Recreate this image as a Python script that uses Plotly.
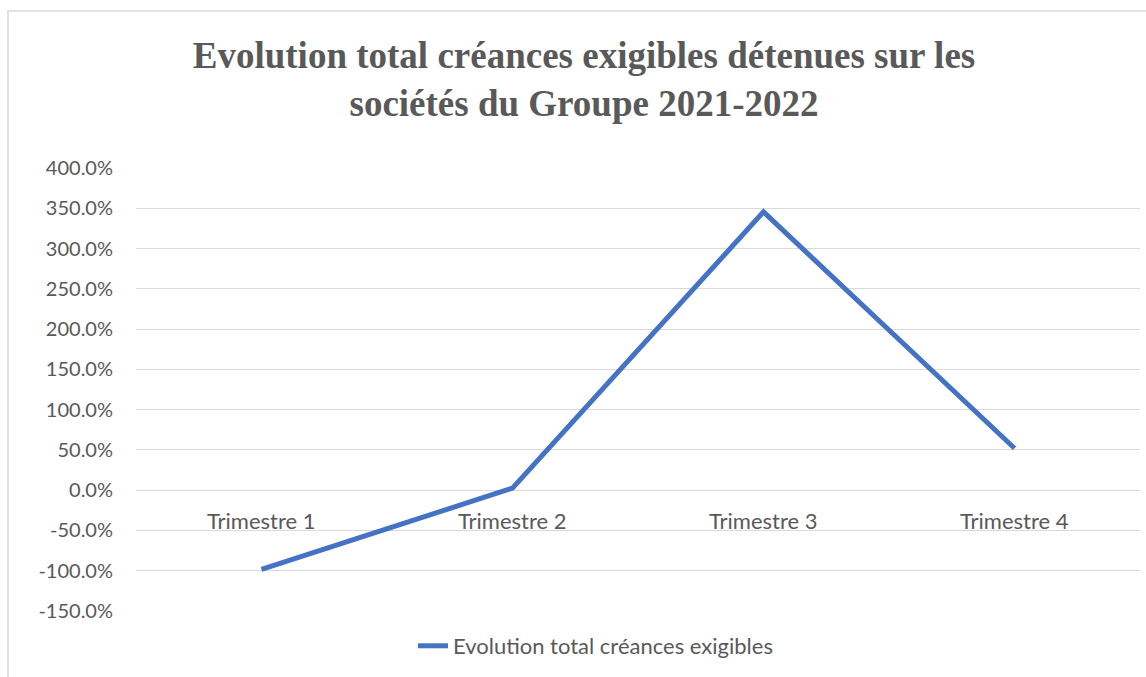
import plotly.graph_objects as go

categories = ["Trimestre 1", "Trimestre 2", "Trimestre 3", "Trimestre 4"]
values = [-98.3, 2.5, 345.5, 52.0]
series_name = "Evolution total créances exigibles"
title_text = "<b>Evolution total créances exigibles détenues sur les<br>sociétés du Groupe 2021-2022</b>"
y_ticks = [-150, -100, -50, 0, 50, 100, 150, 200, 250, 300, 350, 400]
y_tick_labels = [f"{v:.1f}%" for v in y_ticks]

W, H = 1146, 677
L, R, T, B = 136, 6, 168, 66
pw, ph = W - L - R, H - T - B

grey = "#595959"
tick_font = dict(family="Lato, Noto Sans, sans-serif", size=20, color=grey)
cat_font = dict(family="Lato, Noto Sans, sans-serif", size=22, color=grey)

fig = go.Figure()
fig.add_trace(go.Scatter(
    x=categories, y=values, mode="lines", name=series_name,
    line=dict(color="#4472C4", width=5),
))

for c in categories:
    fig.add_annotation(x=c, y=0, xref="x", yref="y", text=c, showarrow=False,
                       yanchor="top", yshift=-15, font=cat_font)

def px_x(p):
    return (p - L) / pw

def px_y(p):
    return (H - B - p) / ph

fig.add_shape(type="rect", xref="paper", yref="paper",
              x0=px_x(8), x1=px_x(1160), y0=px_y(11), y1=px_y(700),
              line=dict(color="#D9D9D9", width=1.5), layer="below")

fig.update_layout(
    width=W, height=H,
    margin=dict(l=L, r=R, t=T, b=B),
    paper_bgcolor="white", plot_bgcolor="white",
    title=dict(text=title_text, x=584 / W, xanchor="center", y=1 - 68 / H, yanchor="top",
               font=dict(family="Liberation Serif, Times New Roman, serif", size=37, color=grey)),
    showlegend=True,
    legend=dict(orientation="h", x=px_x(413), xanchor="left", y=px_y(625), yanchor="top",
                font=cat_font, bgcolor="rgba(0,0,0,0)"),
    xaxis=dict(showticklabels=False, showgrid=False, zeroline=False, showline=False,
               range=[-0.5, 3.5], fixedrange=True),
    yaxis=dict(range=[-150, 400], tickvals=y_ticks, ticktext=y_tick_labels,
               showgrid=True, gridcolor="#D9D9D9", gridwidth=1.3, zeroline=False,
               showline=False, tickfont=tick_font, ticklabelstandoff=22),
)

fig.write_html("out.html")
